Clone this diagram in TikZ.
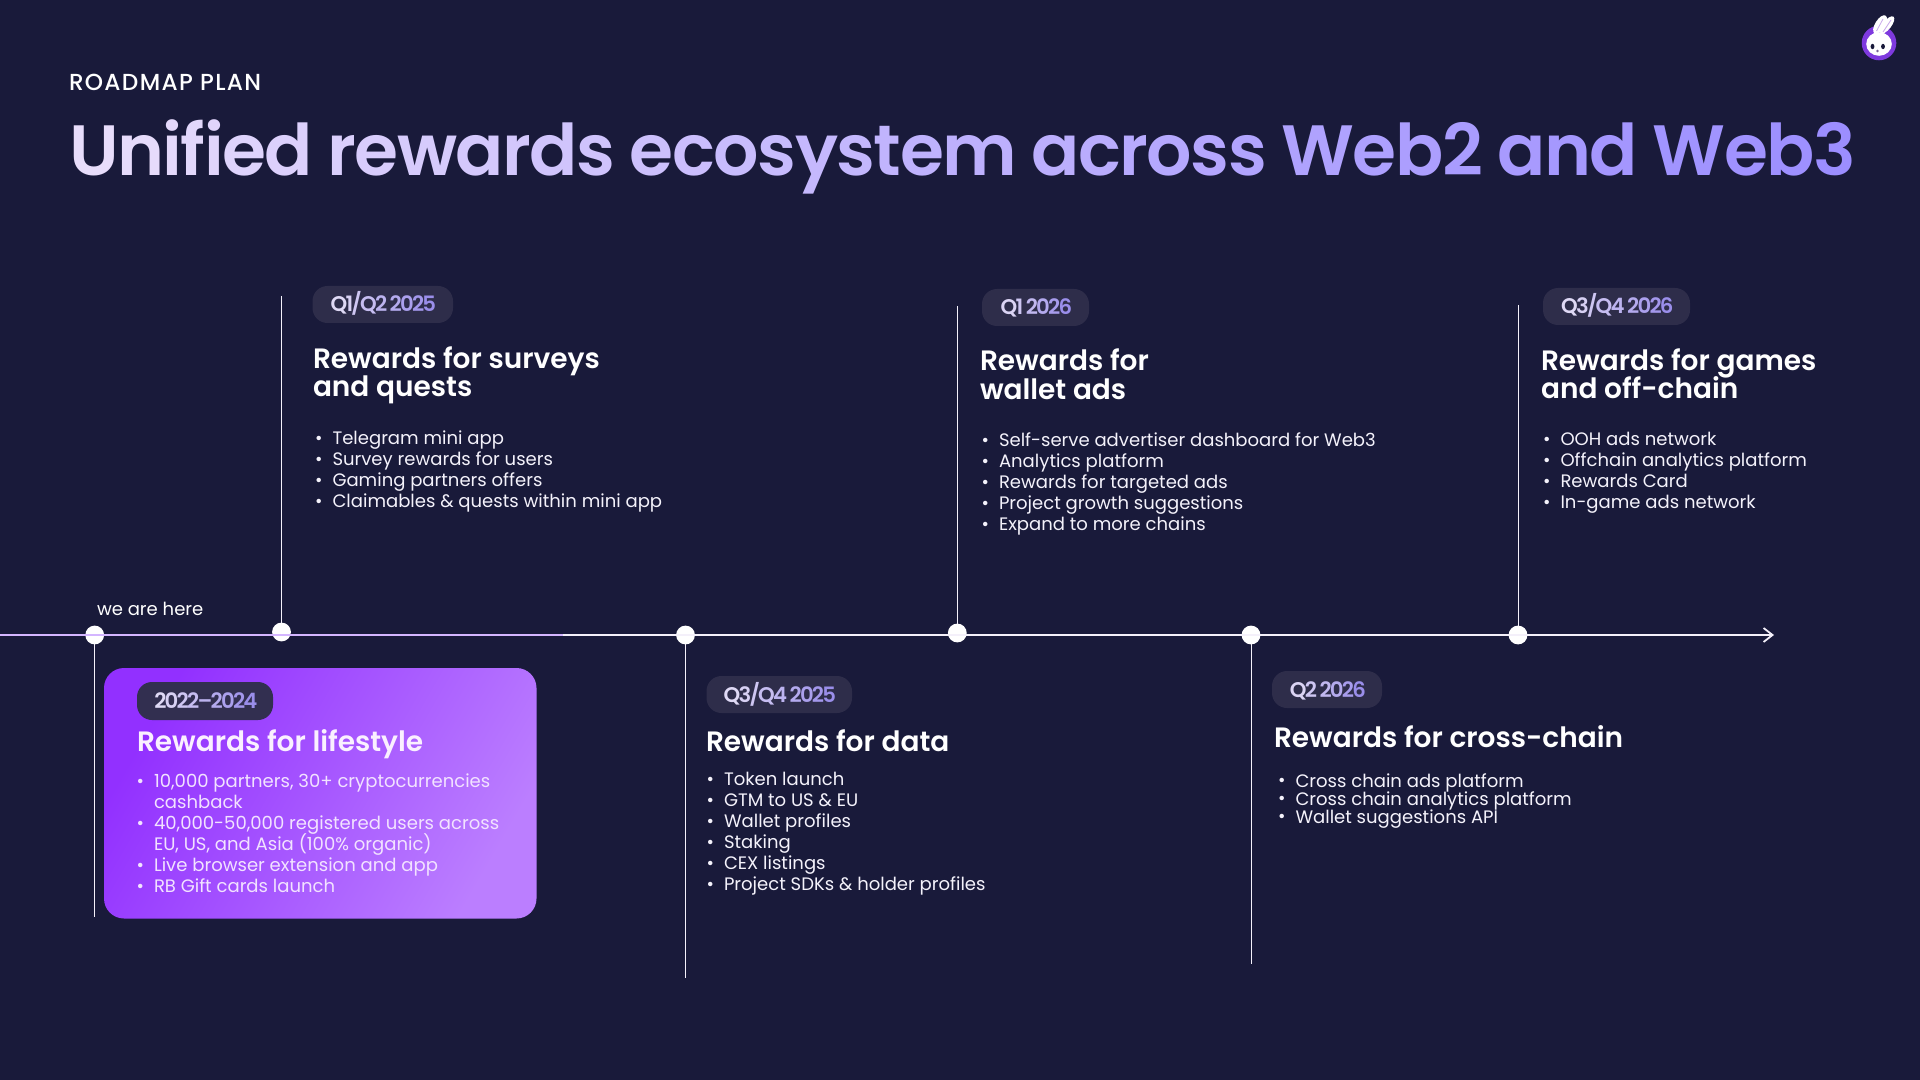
\documentclass[tikz,border=0pt]{standalone}
\usepackage{fontspec}
\setmainfont{Poppins}
\newfontfamily\pmed{Poppins Medium}
\newfontfamily\psemi{Poppins SemiBold}
\usetikzlibrary{arrows.meta}
\definecolor{bgc}{HTML}{191A3A}
\definecolor{pillc}{HTML}{2E2D4A}
\definecolor{pillc2}{HTML}{322F50}
\definecolor{linec}{HTML}{F4F0FA}
\definecolor{purpline}{HTML}{D4B6FF}
\definecolor{ta}{HTML}{EADFFB}
\definecolor{tb}{HTML}{9C8EFF}
\definecolor{pa}{HTML}{E8E2F6}
\definecolor{pb}{HTML}{9A8EEA}
\definecolor{cardbody}{HTML}{F2E2FF}
\definecolor{cardhead}{HTML}{FAF0FF}
\definecolor{bodyc}{HTML}{F4F2FB}
\definecolor{logop}{HTML}{7E3ADE}
\definecolor{logol}{HTML}{C8AAEB}
\definecolor{logon}{HTML}{786496}
\makeatletter
\newcounter{gpos}
\newlength\gkern
\def\gtot{1}
\colorlet{ga}{ta}\colorlet{gb}{tb}
\newcommand\gword[1]{\@tfor\gtok:=#1\do{\stepcounter{gpos}\edef\gpct{\the\numexpr 100*\value{gpos}/\gtot\relax}\textcolor{gb!\gpct!ga}{\gtok}\kern\gkern}}
\makeatother
\newcommand\gspace{\hspace{0.225em}}
\newcommand\pspace{\hspace{0.2em}}
\newcommand\pilltext[2]{\def\gtot{#1}\setcounter{gpos}{0}\colorlet{ga}{pa}\colorlet{gb}{pb}\setlength\gkern{-0.87pt}#2}
\tikzset{
  tl/.style={line width=1pt,draw=linec},
  stem/.style={line width=0.45pt,draw=linec},
  dotn/.style={circle,fill=white,inner sep=0pt,minimum size=9.4pt,outer sep=0pt},
  pillbox/.style={draw=none,fill=pillc,rounded corners=7.5pt},
  txt/.style={anchor=base west,inner sep=0pt,outer sep=0pt},
  pilltxt/.style={anchor=base,inner sep=0pt,font=\psemi\fontsize{10.6}{12}\selectfont},
  headt/.style={txt,text=white,font=\psemi\fontsize{14}{16}\selectfont},
  bodyt/.style={txt,text=bodyc,yshift=-0.2pt,font=\fontsize{9.02}{11}\selectfont},
  cardhd/.style={headt,text=cardhead},
  cardbd/.style={bodyt,text=cardbody},
}
\newcommand\bmark{\makebox[7.25pt][l]{\hspace{-1.4pt}\raisebox{0.2pt}{•}}}
\begin{document}
\begin{tikzpicture}[x=0.5pt,y=-0.5pt]
\fill[bgc] (0,0) rectangle (1920,1080);
\useasboundingbox (0,0) rectangle (1920,1080);

% logo
\fill[logop] (1879,43) circle (17.3);
\fill[white,rotate around={-32:(1880,24.5)}] (1880,24.5) ellipse (4.8 and 10.5);
\fill[white,rotate around={-38:(1887,25)}] (1887,25) ellipse (4.3 and 10.5);
\draw[logol,line width=0.4pt] (1876.5,31) -- (1883,19);
\draw[logol,line width=0.4pt] (1883,32) -- (1891,20);
\fill[white] (1879,44) ellipse (12.8 and 11.8);
\fill[bgc] (1872.5,46.5) ellipse (1.9 and 2.7);
\fill[bgc] (1883,46.5) ellipse (1.9 and 2.7);
\fill[logon] (1877.5,51) circle (1.3);

% header
\node[txt,text=white,font=\pmed\fontsize{11.6}{13}\selectfont\addfontfeature{LetterSpace=5.7}] (kicker) at (69,91) {ROADMAP PLAN};
\node[txt,font=\psemi\fontsize{35.6}{40}\selectfont] (title) at (69,176) {\def\gtot{40}\setlength\gkern{-0.75pt}\setcounter{gpos}{0}\gword{Unified}\gspace\gword{rewards}\gspace\gword{ecosystem}\gspace\gword{across}\gspace\gword{Web2}\gspace\gword{and}\gspace\gword{Web3}};

% timeline
\node[dotn] (d0) at (94.7,635) {};
\node[dotn] (d1) at (281.5,632) {};
\node[dotn] (d2) at (685.5,635) {};
\node[dotn] (d3) at (957.3,633) {};
\node[dotn] (d4) at (1251,635) {};
\node[dotn] (d5) at (1518,635) {};
\coordinate (tstart) at (0,635);
\coordinate (tpurple) at (563,635);
\coordinate (tend) at (1774,635);
\draw[tl,-{Straight Barb[length=4.5pt,width=7pt,line width=0.9pt]}] (tpurple) -- (tend);
\draw[tl,draw=purpline] (tstart) -- (tpurple);

% stems
\coordinate (s0) at (94.7,917);
\coordinate (s1) at (281.5,296);
\coordinate (s2) at (685.5,978);
\coordinate (s3) at (957.3,306);
\coordinate (s4) at (1251,964);
\coordinate (s5) at (1518,305);
\draw[stem] (d0) -- (s0);
\draw[stem] (s1) -- (d1);
\draw[stem] (d2) -- (s2);
\draw[stem] (s3) -- (d3);
\draw[stem] (d4) -- (s4);
\draw[stem] (s5) -- (d5);

% card
\shade[rounded corners=10pt,left color={rgb,255:red,146;green,48;blue,255},right color={rgb,255:red,187;green,126;blue,255},shading angle=60] (104,668) rectangle (536.5,918.5);

% pills
\fill[pillbox,fill=pillc2] (137,682) rectangle (273,720);
\node[pilltxt] (p0) at (205,708.5) {\pilltext{9}{\gword{2022–2024}}};
\fill[pillbox] (312.5,286) rectangle (453,323);
\node[pilltxt] (p1) at (382.5,312) {\pilltext{9}{\gword{Q1/Q2}\pspace\gword{2025}}};
\fill[pillbox] (706.5,676) rectangle (852,713);
\node[pilltxt] (p2) at (779,702) {\pilltext{9}{\gword{Q3/Q4}\pspace\gword{2025}}};
\fill[pillbox] (982,289) rectangle (1089,326);
\node[pilltxt] (p3) at (1035.5,315) {\pilltext{6}{\gword{Q1}\pspace\gword{2026}}};
\fill[pillbox] (1272,671) rectangle (1382,708);
\node[pilltxt] (p4) at (1327,697) {\pilltext{6}{\gword{Q2}\pspace\gword{2026}}};
\fill[pillbox] (1543,288) rectangle (1690,325);
\node[pilltxt] (p5) at (1616.5,314) {\pilltext{9}{\gword{Q3/Q4}\pspace\gword{2026}}};

% we are here
\node[bodyt,text=white] (here) at (97,615.5) {we are here};

% lifestyle
\node[cardhd] (h0) at (137,751) {Rewards for lifestyle};
\node[cardbd] (b01) at (139.5,787) {\bmark 10,000 partners, 30+ cryptocurrencies};
\node[cardbd] (b02) at (154,808) {cashback};
\node[cardbd] (b03) at (139.5,829) {\bmark 40,000-50,000 registered users across};
\node[cardbd] (b04) at (154,850) {EU, US, and Asia (100\% organic)};
\node[cardbd] (b05) at (139.5,871) {\bmark Live browser extension and app};
\node[cardbd] (b06) at (139.5,892) {\bmark RB Gift cards launch};

% surveys
\node[headt] (h1a) at (313,368) {Rewards for surveys};
\node[headt] (h1b) at (313,396) {and quests};
\node[bodyt] (b11) at (318,444) {\bmark Telegram mini app};
\node[bodyt] (b12) at (318,465) {\bmark Survey rewards for users};
\node[bodyt] (b13) at (318,486) {\bmark Gaming partners offers};
\node[bodyt] (b14) at (318,507) {\bmark Claimables \& quests within mini app};

% data
\node[headt] (h2) at (706,751) {Rewards for data};
\node[bodyt] (b21) at (709.5,785.5) {\bmark Token launch};
\node[bodyt] (b22) at (709.5,806.5) {\bmark GTM to US \& EU};
\node[bodyt] (b23) at (709.5,827.5) {\bmark Wallet profiles};
\node[bodyt] (b24) at (709.5,848.5) {\bmark Staking};
\node[bodyt] (b25) at (709.5,869.5) {\bmark CEX listings};
\node[bodyt] (b26) at (709.5,890.5) {\bmark Project SDKs \& holder profiles};

% wallet ads
\node[headt] (h3a) at (980,371) {Rewards for};
\node[headt] (h3b) at (980,399.5) {wallet ads};
\node[bodyt] (b31) at (984.5,446.5) {\bmark Self-serve advertiser dashboard for Web3};
\node[bodyt] (b32) at (984.5,467.5) {\bmark Analytics platform};
\node[bodyt] (b33) at (984.5,488.5) {\bmark Rewards for targeted ads};
\node[bodyt] (b34) at (984.5,509.5) {\bmark Project growth suggestions};
\node[bodyt] (b35) at (984.5,530.5) {\bmark Expand to more chains};

% cross-chain
\node[headt] (h4) at (1274,747.5) {Rewards for cross-chain};
\node[bodyt] (b41) at (1281,786.7) {\bmark Cross chain ads platform};
\node[bodyt] (b42) at (1281,804.7) {\bmark Cross chain analytics platform};
\node[bodyt] (b43) at (1281,822.7) {\bmark Wallet suggestions API};

% games
\node[headt] (h5a) at (1541,371) {Rewards for games};
\node[headt] (h5b) at (1541,398.5) {and off-chain};
\node[bodyt] (b51) at (1546,445) {\bmark OOH ads network};
\node[bodyt] (b52) at (1546,466) {\bmark Offchain analytics platform};
\node[bodyt] (b53) at (1546,487) {\bmark Rewards Card};
\node[bodyt] (b54) at (1546,508) {\bmark In-game ads network};
\end{tikzpicture}
\end{document}
